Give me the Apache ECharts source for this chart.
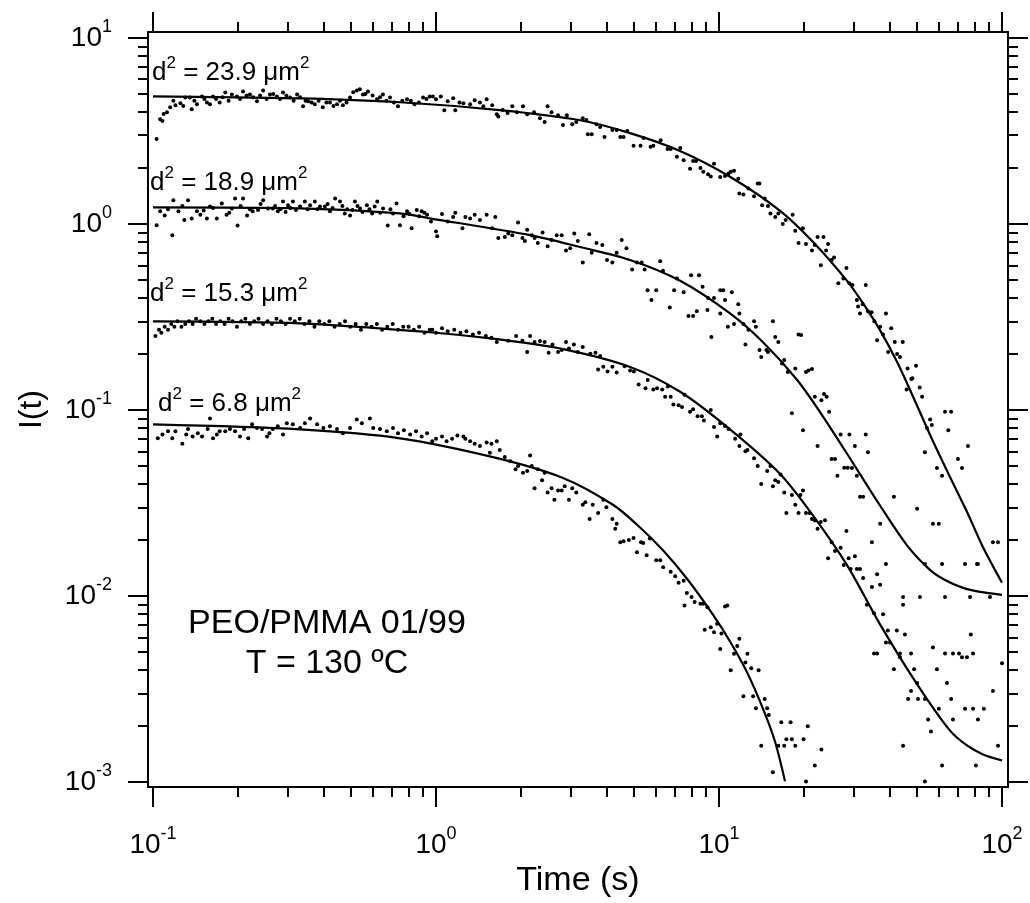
<!DOCTYPE html>
<html>
<head>
<meta charset="utf-8">
<title>I(t) decay</title>
<script src="https://cdn.jsdelivr.net/npm/echarts/dist/echarts.min.js"></script>
<style>
  html, body { margin: 0; padding: 0; background: #fff; }
  #chart { width: 1030px; height: 903px; }
</style>
</head>
<body>
<div id="chart"></div>
<script>
// tick values
var xMajor = [0.1, 1, 10, 100];
var xMinor = [0.2, 0.3, 0.4, 0.5, 0.6, 0.7, 0.8, 0.9, 2, 3, 4, 5, 6, 7, 8, 9, 20, 30, 40, 50, 60, 70, 80, 90];
var yMajor = [0.001, 0.01, 0.1, 1, 10];
var yMinor = [0.002, 0.003, 0.004, 0.005, 0.006, 0.007, 0.008, 0.009,
  0.02, 0.03, 0.04, 0.05, 0.06, 0.07, 0.08, 0.09,
  0.2, 0.3, 0.4, 0.5, 0.6, 0.7, 0.8, 0.9,
  2, 3, 4, 5, 6, 7, 8, 9];

// fitted curves [t, I]
var fit23 = [[0.1,4.85],[0.331,4.73],[0.746,4.51],[1.68,4.09],[3.23,3.61],[4.85,3.08],[7.28,2.47],[10.9,1.80],[16.4,1.18],[21.5,0.80],[28.3,0.496],[32.3,0.374],[37.1,0.268],[42.6,0.181],[48.5,0.118],[56.6,0.0697],[65.5,0.0437],[75.2,0.0284],[85.7,0.0183],[100,0.0118]];
var fit18 = [[0.1,1.228],[0.331,1.213],[0.746,1.141],[0.952,1.073],[2.149,0.871],[3.228,0.752],[4.85,0.641],[7.29,0.4955],[10.94,0.331],[14.31,0.2316],[18.86,0.1454],[23.31,0.0923],[29.75,0.0519],[37.11,0.0306],[46.16,0.01875],[55.75,0.0138],[62.9,0.01221],[72.8,0.01107],[83.6,0.01053],[100,0.01016]];
var fit15 = [[0.1,0.2997],[0.331,0.2924],[0.952,0.2619],[1.643,0.2403],[2.81,0.2126],[4.85,0.1705],[7.29,0.1254],[10.94,0.0787],[16.44,0.04535],[21.5,0.02708],[28.34,0.01467],[37.11,0.00703],[50.08,0.003369],[65.52,0.001892],[75.2,0.001575],[85.7,0.00141],[100,0.00131]];
var fit6 = [[0.1,0.0837],[0.331,0.0787],[0.746,0.0705],[1.643,0.0552],[2.81,0.04318],[4.22,0.03099],[5.17,0.02396],[6.34,0.01763],[7.77,0.01221],[9.52,0.007946],[10.94,0.005706],[12.56,0.003901],[14.31,0.002479],[15.77,0.001654],[17.11,0.001012]];

// measured points [t, I]
var dots23 = [
[0.103,2.86],[0.106,3.66],[0.108,3.58],[0.109,3.9],[0.112,3.98],[0.115,4.24],[0.118,4.6],[0.12,4.34],[0.125,4.45],[0.128,4.3],[0.13,4.79],[0.135,4.79],[0.137,4.14],[0.14,4.6],[0.143,4.4],[0.149,4.85],[0.152,4.7],[0.155,4.5],[0.159,4.4],[0.163,4.85],[0.167,4.7],[0.172,4.5],[0.176,4.8],[0.18,5.09],[0.185,4.6],[0.19,4.97],[0.198,4.85],[0.203,4.7],[0.208,5.15],[0.214,4.9],[0.22,4.97],[0.226,4.8],[0.233,4.56],[0.239,4.9],[0.245,5.21],[0.252,4.7],[0.259,4.97],[0.266,5.0],[0.274,4.85],[0.281,4.7],[0.288,5.09],[0.296,4.9],[0.305,4.79],[0.314,4.6],[0.323,4.97],[0.331,4.8],[0.339,4.29],[0.346,4.6],[0.353,4.56],[0.363,4.5],[0.373,4.4],[0.385,4.6],[0.398,4.24],[0.41,4.5],[0.422,4.5],[0.434,4.3],[0.447,4.4],[0.458,4.6],[0.469,4.34],[0.483,4.5],[0.497,4.79],[0.51,5.1],[0.525,5.21],[0.538,5.3],[0.552,4.97],[0.563,5.0],[0.575,5.15],[0.597,4.9],[0.619,4.68],[0.634,4.8],[0.649,4.97],[0.668,4.6],[0.688,4.79],[0.71,4.5],[0.734,4.29],[0.76,4.6],[0.79,4.68],[0.815,4.6],[0.84,4.4],[0.87,4.5],[0.9,4.79],[0.925,4.7],[0.95,4.85],
[0.975,4.85],[1.0,4.68],[1.04,4.85],[1.07,4.09],[1.1,4.56],[1.15,4.74],[1.17,4.09],[1.21,4.5],[1.25,4.45],[1.32,4.4],[1.37,4.62],[1.43,4.5],[1.47,4.29],[1.51,4.68],[1.58,4.34],[1.64,3.89],[1.66,3.78],[1.72,4.1],[1.79,3.95],[1.86,4.29],[1.93,3.99],[2.03,4.29],[2.1,3.89],[2.22,3.99],[2.33,3.7],[2.42,3.53],[2.48,4.29],[2.56,3.99],[2.7,3.84],[2.81,3.4],[2.9,3.84],[3.03,3.44],[3.13,3.53],[3.3,3.7],[3.4,3.62],[3.44,3.04],[3.55,3.04],[3.69,3.44],[3.8,3.32],[3.94,2.93],[4.2,3.2],[4.35,3.2],[4.48,2.93],[4.6,2.93],[4.74,3.16],[4.99,2.63],[5.28,2.63],[5.41,2.9],[5.73,2.6],[5.86,2.63],[6.22,2.82],[6.58,2.53],[6.75,2.53],[7.1,2.3],[7.3,2.56],[7.5,2.2],[7.9,1.98],[8.1,2.18],[8.3,2.18],[8.6,2.0],[8.8,1.91],[9.15,1.85],[9.35,1.8],[9.6,2.11],[10.1,1.79],[10.5,1.81],[10.8,1.87],
[11,1.91],[11.3,1.93],[11.7,1.75],[11.8,1.46],[12.2,1.44],[12.7,1.55],[13.3,1.41],[13.7,1.65],[13.9,1.65],[14.2,1.26],[14.5,1.37],[14.9,1.25],[15.2,1.14],[15.8,1.09],[16.2,1.14],[16.8,1.0],[17.2,1.05],[18.2,1.12],[18.6,0.92],[19.1,0.79],[19.8,0.95],[20.3,0.78],[21.3,0.72],[21.8,0.77],[22.3,0.85],[22.9,0.6],[23.4,0.85],[23.9,0.72],[24.3,0.78],[25.0,0.64],[25.5,0.66],[26.4,0.48],[27.5,0.51],[28.2,0.58],[28.9,0.48],[29.6,0.47],[30.7,0.39],[31.0,0.36],[31.5,0.33],[32.2,0.37],[33.0,0.47],[33.6,0.34],[34.6,0.335],[35.4,0.3],[36.2,0.237],[37.1,0.28],[38.0,0.255],[38.9,0.33],[39.6,0.205],[40.6,0.275],[41.8,0.232],[42.6,0.2],[43.6,0.193],[44.6,0.232],[46.0,0.129],[46.4,0.167],[47.8,0.147],[48.2,0.148],[49.7,0.173],[51.2,0.132],[52.2,0.118],
[53.4,0.0594],[54.3,0.080],[55.7,0.089],[56.5,0.083],[57.0,0.0245],[58.9,0.0488],[59.8,0.0245],[61.4,0.0443],[62.9,0.098],[64.6,0.078],[66.1,0.098],[69.9,0.0545],[72.2,0.0488],[75.8,0.064],[74.0,0.0149],[81.6,0.0149],[92.9,0.0195],[96.8,0.0195]
];
var dots18 = [
[0.103,0.985],[0.106,1.17],[0.11,1.11],[0.113,1.2],[0.117,0.87],[0.118,1.34],[0.123,1.17],[0.127,1.25],[0.129,1.05],[0.133,1.34],[0.137,1.07],[0.143,1.17],[0.147,1.12],[0.151,1.18],[0.155,1.07],[0.159,1.24],[0.163,1.22],[0.168,1.07],[0.175,1.29],[0.182,1.12],[0.186,1.15],[0.19,1.21],[0.195,1.37],[0.199,0.98],[0.204,1.25],[0.208,1.37],[0.215,1.11],[0.22,1.2],[0.225,1.17],[0.235,1.19],[0.24,1.28],[0.245,1.34],[0.255,1.21],[0.265,1.21],[0.27,1.25],[0.276,1.17],[0.282,1.2],[0.288,1.32],[0.294,1.16],[0.3,1.26],[0.306,1.22],[0.312,1.32],[0.32,1.19],[0.331,1.24],[0.344,1.32],[0.352,1.2],[0.359,1.26],[0.373,1.32],[0.381,1.2],[0.389,1.24],[0.405,1.24],[0.414,1.28],[0.422,1.17],[0.431,1.22],[0.44,1.37],[0.458,1.32],[0.467,1.25],[0.476,1.14],[0.486,1.2],[0.497,1.11],[0.507,1.19],[0.517,1.32],[0.528,1.25],[0.539,1.21],[0.55,1.16],[0.57,1.26],[0.582,1.2],[0.595,1.14],[0.607,1.24],[0.62,1.32],[0.635,1.15],[0.65,1.21],[0.675,0.98],[0.69,1.2],[0.705,1.14],[0.725,1.29],[0.746,0.985],[0.768,1.1],[0.79,1.17],[0.805,1.13],[0.82,0.949],[0.855,1.19],[0.872,1.1],[0.89,1.17],[0.91,1.15],[0.93,1.12],
[0.96,1.03],[1.0,0.91],[1.01,0.86],[1.05,1.13],[1.1,1.03],[1.15,1.09],[1.17,1.15],[1.24,0.95],[1.27,1.09],[1.32,1.07],[1.37,1.12],[1.43,1.05],[1.51,1.12],[1.58,0.95],[1.62,1.09],[1.66,0.84],[1.75,0.85],[1.8,0.89],[1.86,0.87],[1.95,1.02],[2.02,0.84],[2.06,0.81],[2.1,0.93],[2.18,0.87],[2.23,0.84],[2.29,0.79],[2.38,0.9],[2.48,0.76],[2.56,0.82],[2.67,0.87],[2.78,0.87],[2.88,0.72],[2.98,0.74],[3.08,0.89],[3.17,0.81],[3.3,0.62],[3.48,0.88],[3.55,0.7],[3.69,0.79],[3.87,0.77],[4.02,0.64],[4.2,0.62],[4.35,0.7],[4.53,0.82],[4.71,0.74],[4.93,0.57],[5.13,0.62],[5.33,0.62],[5.46,0.57],[5.59,0.44],[5.77,0.39],[6.0,0.44],[6.2,0.63],[6.34,0.56],[6.7,0.356],[6.94,0.44],[7.1,0.51],[7.5,0.43],[7.8,0.32],[7.97,0.53],[8.1,0.32],[8.35,0.34],[8.5,0.53],[8.75,0.46],[9.1,0.345],[9.15,0.4],[9.4,0.247],[9.6,0.4],[10.1,0.44],[10.1,0.33],[10.5,0.39],
[10.35,0.44],[10.75,0.28],[11.1,0.43],[11.3,0.29],[11.7,0.37],[11.8,0.33],[12.2,0.29],[12.4,0.225],[12.7,0.27],[13.3,0.3],[13.5,0.28],[13.9,0.21],[14.1,0.193],[14.7,0.21],[14.9,0.205],[15.5,0.3],[15.8,0.247],[16.2,0.232],[16.7,0.178],[17.0,0.186],[17.5,0.16],[18.1,0.096],[18.6,0.167],[19.1,0.255],[19.5,0.253],[20.3,0.16],[20.7,0.163],[21.3,0.166],[21.8,0.118],[23.0,0.113],[23.5,0.122],[24.0,0.118],[24.5,0.098],
[19.8,0.078],[22.3,0.064],[25.0,0.0545],[25.7,0.0545],[26.2,0.0443],[26.9,0.074],[28.9,0.074],[27.7,0.049],[28.5,0.049],[33.0,0.074],[28.2,0.0224],
[30.2,0.064],[33.6,0.0594],[29.5,0.0488],[30.7,0.0443],[31.5,0.0342],[32.3,0.0342],[41.5,0.0342],[50.1,0.0295],[37.1,0.0245],[34.7,0.0195],[53.4,0.0149],[61.4,0.0149],[38.9,0.0149],[82.2,0.0149],[44.7,0.0099],[51.3,0.0099],[62.9,0.0099],[77.1,0.0099],[90.7,0.0099]
];
var dots15 = [
[0.102,0.25],[0.105,0.27],[0.107,0.26],[0.11,0.28],[0.113,0.27],[0.116,0.29],[0.119,0.28],[0.122,0.3],[0.126,0.28],[0.13,0.29],[0.134,0.3],[0.138,0.29],[0.142,0.31],[0.147,0.3],[0.152,0.29],[0.157,0.3],[0.162,0.31],[0.167,0.29],[0.173,0.3],[0.179,0.29],[0.185,0.31],[0.191,0.3],[0.198,0.28],[0.205,0.3],[0.212,0.31],[0.22,0.29],[0.228,0.3],[0.236,0.31],[0.245,0.29],[0.254,0.3],[0.263,0.29],[0.273,0.31],[0.283,0.3],[0.294,0.29],[0.305,0.31],[0.317,0.3],[0.33,0.31],[0.343,0.29],[0.357,0.3],[0.372,0.28],[0.387,0.3],[0.403,0.29],[0.42,0.3],[0.438,0.28],[0.457,0.29],[0.477,0.3],[0.498,0.28],[0.52,0.29],[0.543,0.27],[0.567,0.29],[0.592,0.28],[0.618,0.29],[0.645,0.27],[0.673,0.28],[0.703,0.29],[0.734,0.27],[0.766,0.28],[0.8,0.28],[0.835,0.27],[0.872,0.28],[0.91,0.26],[0.95,0.27],
[0.97,0.27],[1.0,0.26],[1.05,0.275],[1.1,0.265],[1.16,0.27],[1.22,0.26],[1.28,0.265],[1.35,0.255],[1.42,0.26],[1.5,0.25],[1.57,0.245],
[1.64,0.232],[1.8,0.236],[1.92,0.25],[2.02,0.236],[2.1,0.205],[2.15,0.25],[2.23,0.232],[2.33,0.235],[2.42,0.232],[2.5,0.203],[2.58,0.225],[2.7,0.205],[2.78,0.21],[2.88,0.232],[2.95,0.214],[3.07,0.225],[3.17,0.205],[3.3,0.218],[3.51,0.201],[3.66,0.203],[3.8,0.195],[3.74,0.165],[3.9,0.171],[4.04,0.161],[4.2,0.171],[4.35,0.159],[4.64,0.172],[4.85,0.163],[5.0,0.161],[5.2,0.137],[5.5,0.131],[5.6,0.145],[5.86,0.129],[6.04,0.131],[6.3,0.129],[6.45,0.118],[6.75,0.118],[6.6,0.134],[6.9,0.107],[7.2,0.106],[7.4,0.104],[7.55,0.121],[7.9,0.098],[8.1,0.101],[8.4,0.0925],[8.7,0.0925],[8.85,0.088],[9.35,0.1],[9.6,0.081],[9.85,0.072],[10.1,0.085],[10.5,0.082],[10.8,0.079],
[11.4,0.07],[11.8,0.064],[11.9,0.074],[12.4,0.06],[12.6,0.061],[13.3,0.055],[13.7,0.05],[14.1,0.04],[14.8,0.047],[15.2,0.05],[15.5,0.039],[15.8,0.042],[16.2,0.041],[16.5,0.045],[17,0.036],[17.3,0.028],[18.1,0.035],[18.6,0.031],[19.1,0.028],[19.4,0.035],[19.8,0.037],[20.3,0.028],[20.9,0.028],[21.3,0.026],[21.8,0.0255],[22.9,0.025],[22.3,0.023],[23.7,0.0256],[24.3,0.016],[25.0,0.0195],[25.7,0.0175],[26.9,0.0182],[27.6,0.0147],[28.7,0.016],
[30.2,0.0164],[29.2,0.014],[30.7,0.014],[31.5,0.014],[32.3,0.0125],[36.2,0.0131],[34.7,0.0112],[37.1,0.0115],[44.7,0.009],[33.3,0.009],[35.3,0.0081],[38.0,0.008],[39.5,0.00653],[42.5,0.00653],[45.4,0.00622],[38.9,0.00564],[40.2,0.00564],[35.3,0.00492],[36.2,0.00492],[43.6,0.00492],[43.6,0.00469],[47.7,0.00492],[57.0,0.0053],[62.9,0.00492],[67.1,0.00492],[70.5,0.00492],[72.2,0.00469],[75.2,0.00469],[77.6,0.00622],[79.0,0.00492],[100,0.00436],[41.5,0.00405],[48.9,0.00405],[58.9,0.00405],[50.1,0.00341],[63.9,0.00341],[47.7,0.00309],[46.6,0.0028],[50.5,0.0028],[53.4,0.0028],[66.1,0.0028],[92.9,0.00309],[59.8,0.00248],[74.0,0.00248],[79.0,0.00248],[86.3,0.00248],[54.8,0.00217],[67.1,0.00217],[82.2,0.00217],[56.1,0.00187],[44.7,0.00157],[96.8,0.00157],[61.4,0.00123],[80.9,0.00123],[53.4,0.00101]
];
var dots6 = [
[0.104,0.0705],[0.108,0.074],[0.113,0.077],[0.117,0.0705],[0.12,0.077],[0.127,0.066],[0.131,0.074],[0.133,0.079],[0.138,0.072],[0.144,0.075],[0.149,0.072],[0.156,0.079],[0.159,0.09],[0.163,0.0705],[0.168,0.074],[0.172,0.077],[0.18,0.077],[0.187,0.079],[0.195,0.077],[0.203,0.072],[0.21,0.079],[0.217,0.0705],[0.224,0.084],[0.233,0.08],[0.243,0.079],[0.253,0.072],[0.258,0.075],[0.265,0.079],[0.276,0.0818],[0.288,0.074],[0.297,0.085],[0.312,0.084],[0.331,0.08],[0.344,0.085],[0.359,0.09],[0.38,0.084],[0.4,0.08],[0.422,0.0818],[0.447,0.079],[0.469,0.075],[0.497,0.08],[0.525,0.089],[0.547,0.085],[0.584,0.09],[0.6,0.08],[0.634,0.079],[0.67,0.077],[0.705,0.08],[0.734,0.075],[0.77,0.078],[0.81,0.074],[0.85,0.077],[0.89,0.072],[0.93,0.075],
[0.97,0.068],[1.0,0.07],[1.05,0.072],[1.09,0.068],[1.14,0.07],[1.19,0.073],[1.25,0.072],[1.27,0.07],[1.32,0.068],[1.37,0.066],[1.43,0.064],[1.51,0.067],[1.57,0.066],[1.64,0.068],[1.55,0.059],[1.68,0.061],[1.75,0.056],[1.83,0.053],[1.91,0.048],[1.95,0.05],[2.03,0.046],[2.1,0.047],[2.15,0.057],[2.18,0.05],[2.23,0.038],[2.29,0.048],[2.37,0.042],[2.42,0.046],[2.48,0.036],[2.56,0.038],[2.62,0.033],[2.7,0.037],[2.78,0.037],[2.85,0.039],[2.95,0.033],[3.03,0.038],[3.13,0.036],[3.3,0.031],[3.37,0.032],[3.49,0.026],[3.58,0.031],[3.74,0.028],[3.9,0.033],[4.0,0.03],[4.2,0.026],[4.3,0.023],[4.35,0.0245],[4.48,0.0195],[4.6,0.0197],[4.8,0.02],[4.99,0.0205],[5.13,0.0172],[5.3,0.0195],[5.4,0.0193],[5.55,0.0166],[5.7,0.0204],[6.0,0.0156],[6.2,0.0156],[6.35,0.0143],[6.75,0.0135],[7.0,0.0128],[7.2,0.0118],
[7.5,0.0121],[7.55,0.0089],[7.7,0.0104],[8.0,0.0099],[8.2,0.0093],[8.6,0.0091],[8.8,0.0091],[8.9,0.0066],[9.1,0.0087],[9.35,0.0068],[9.6,0.0064],[9.85,0.0071],[10.1,0.0052],[10.2,0.0063],[10.5,0.0088],[10.7,0.0089],[11.0,0.004],[11.3,0.0049],[11.6,0.0054],[11.8,0.0059],[12.2,0.0029],[12.4,0.0044],[12.6,0.0049],[13.0,0.0041],[13.2,0.0029],[13.5,0.0025],[13.8,0.004],[14.1,0.00157],[14.5,0.0028],[14.8,0.0025],[15.0,0.0023],[15.5,0.00113],[16.2,0.00157],[16.6,0.0021],[17.9,0.0021],[17.0,0.00157],[17.3,0.0017],[18.1,0.0017],[18.6,0.00157],[19.9,0.0017],[20.6,0.002],[21.8,0.00123],[23.0,0.0015],[20.3,0.00101]
];

var FONT = '"Liberation Sans", Arial, Helvetica, sans-serif';
var BLACK = '#000';

var chart = echarts.init(document.getElementById('chart'), null, { renderer: 'canvas' });

function pow10(v) {
  var e = Math.round(Math.log(v) / Math.LN10);
  return '{b|10}{s|' + e + '}';
}
var tickRich = {
  b: { fontSize: 28, fontFamily: FONT, color: BLACK, lineHeight: 40 },
  s: { fontSize: 18, fontFamily: FONT, color: BLACK, verticalAlign: 'top', lineHeight: 20 }
};

// one axis on a side: major (with line) or minor ticks only
function axis(kind, position, ticks, len, major, extra) {
  var a = {
    type: 'log',
    logBase: 10,
    position: position,
    min: kind === 'x' ? 0.09601 : 0.000941,
    max: kind === 'x' ? 105.0 : 10.76,
    axisLine: { show: major, onZero: false, lineStyle: { color: BLACK, width: 2 } },
    axisTick: { show: true, inside: false, length: len, customValues: ticks, lineStyle: { color: BLACK, width: 2 } },
    minorTick: { show: false },
    axisLabel: { show: false },
    splitLine: { show: false },
    minorSplitLine: { show: false }
  };
  if (extra) {
    for (var k in extra) a[k] = extra[k];
  }
  return a;
}

var option = {
  animation: false,
  backgroundColor: '#fff',
  grid: { left: 148, top: 32, right: 22, bottom: 109, containLabel: false },
  xAxis: [
    axis('x', 'bottom', xMajor, 20, true, {
      axisLabel: { show: true, customValues: xMajor, formatter: pow10, rich: tickRich, margin: 38 },
      name: 'Time (s)', nameLocation: 'middle', nameGap: 72,
      nameTextStyle: { fontSize: 34, fontFamily: FONT, color: BLACK }
    }),
    axis('x', 'bottom', xMinor, 10, false),
    axis('x', 'top', xMajor, 20, true),
    axis('x', 'top', xMinor, 10, false)
  ],
  yAxis: [
    axis('y', 'left', yMajor, 20, true, {
      axisLabel: { show: true, customValues: yMajor, formatter: pow10, rich: tickRich, margin: 36 },
      name: 'I(t)', nameLocation: 'middle', nameGap: 100, nameRotate: 90,
      nameTextStyle: { fontSize: 32, fontFamily: FONT, color: BLACK }
    }),
    axis('y', 'left', yMinor, 10, false),
    axis('y', 'right', yMajor, 20, true),
    axis('y', 'right', yMinor, 10, false)
  ],
  series: [],
  graphic: []
};

[dots23, dots18, dots15, dots6].forEach(function (d) {
  option.series.push({
    type: 'scatter', xAxisIndex: 0, yAxisIndex: 0, data: d,
    symbol: 'circle', symbolSize: 4, silent: true,
    itemStyle: { color: BLACK, opacity: 1 }, clip: true
  });
});
[fit23, fit18, fit15, fit6].forEach(function (d) {
  option.series.push({
    type: 'line', xAxisIndex: 0, yAxisIndex: 0, data: d,
    showSymbol: false, smooth: 0.3, silent: true,
    lineStyle: { color: BLACK, width: 2.2 }, clip: true
  });
});

// annotations
var noteRich = {
  n: { fontSize: 26, fontFamily: FONT, color: BLACK, lineHeight: 36 },
  s: { fontSize: 17, fontFamily: FONT, color: BLACK, verticalAlign: 'top', lineHeight: 18 }
};
var notes = [
  { text: '23.9', left: 152, top: 55 },
  { text: '18.9', left: 150, top: 165 },
  { text: '15.3', left: 150, top: 276 },
  { text: '6.8', left: 158, top: 386 }
];
notes.forEach(function (n) {
  option.graphic.push({
    type: 'text', left: n.left, top: n.top, silent: true,
    style: { text: '{n|d}{s|2}{n| = ' + n.text + ' \u03bcm}{s|2}', rich: noteRich }
  });
});
['PEO/PMMA 01/99', 'T = 130 \u00baC'].forEach(function (line, i) {
  option.graphic.push({
    type: 'text', x: 327, y: 607 + i * 40, silent: true,
    style: {
      text: line, font: '34px ' + FONT, fill: BLACK,
      align: 'center', textAlign: 'center', verticalAlign: 'top', textVerticalAlign: 'top'
    }
  });
});

chart.setOption(option);
</script>
</body>
</html>
